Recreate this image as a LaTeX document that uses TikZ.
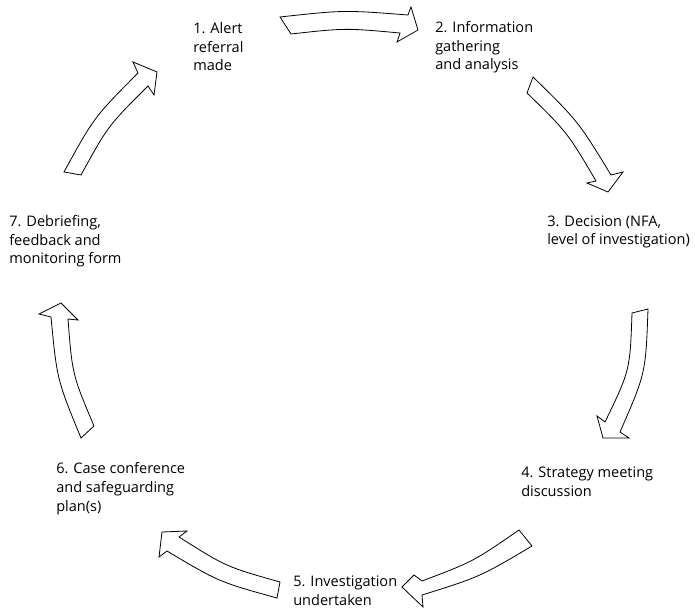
\documentclass[tikz,border=0pt]{standalone}
\usepackage{fontspec}
\setmainfont{Open Sans}
\tikzset{
  blockarrow/.style={draw=black, line width=0.6pt, fill=white, line join=miter},
  stage/.style={anchor=base west, align=left, inner sep=0pt,
    font=\fontsize{10.9pt}{13.9pt}\selectfont}
}
\begin{document}
\begin{tikzpicture}[x=0.75pt, y=-0.75pt]
\useasboundingbox[fill=white] (0,0) rectangle (695,609);

% labels (anchor = baseline of last line)
\node[stage] (s1) at (193,71) {1. Alert\\referral\\made};
\node[stage] (s2) at (435,70) {2. Information\\gathering\\and analysis};
\node[stage] (s3) at (547,245) {3. Decision (NFA,\\level of investigation)};
\node[stage] (s4) at (521,496) {4. Strategy meeting\\discussion};
\node[stage] (s5) at (293,605) {5. Investigation\\undertaken};
\node[stage] (s6) at (56,511) {6. Case conference\\and safeguarding\\plan(s)};
\node[stage] (s7) at (9,264) {7. Debriefing,\\feedback and\\monitoring form};

% arrow 1 -> 2
\draw[blockarrow] (280,17) .. controls (344,10) and (344,10) .. (408,15)
  -- (411,7) -- (418,30) -- (397,42) -- (400,33)
  .. controls (345,28) and (345,28) .. (291,34) -- cycle;
% arrow 2 -> 3
\draw[blockarrow] (533,77) .. controls (578,121) and (578,121) .. (611,175)
  -- (623,172) -- (608,192) -- (587,183) -- (596,181)
  .. controls (567.4,132.4) and (567.4,132.4) .. (527,93) -- cycle;
% arrow 3 -> 4
\draw[blockarrow] (648,309) .. controls (645.7,373.2) and (645.7,373.2) .. (620,432)
  -- (629,438) -- (603,438) -- (597,416) -- (605,422)
  .. controls (630,370.4) and (630,370.4) .. (632,313) -- cycle;
% arrow 4 -> 5
\draw[blockarrow] (519,530) .. controls (473.6,561.4) and (473.6,561.4) .. (422,581)
  -- (414,575) -- (402,587) -- (423,607) -- (422,595)
  .. controls (479.8,576.9) and (479.8,576.9) .. (532,546) -- cycle;
% arrow 5 -> 6
\draw[blockarrow] (280,582) .. controls (226.2,566.8) and (226.2,566.8) .. (179,537)
  -- (187,531) -- (162,532) -- (159,557) -- (167,551)
  .. controls (218.9,581.9) and (218.9,581.9) .. (277,598) -- cycle;
% arrow 6 -> 7
\draw[blockarrow] (81,438) .. controls (57,379.7) and (57,379.7) .. (51,317)
  -- (39,314) -- (61,303) -- (78,320) -- (68,319)
  .. controls (72.3,374.6) and (72.3,374.6) .. (94,426) -- cycle;
% arrow 7 -> 1
\draw[blockarrow] (64,172) .. controls (94,117.3) and (94,117.3) .. (138,73)
  -- (133,62) -- (157,72) -- (154,95) -- (148,86)
  .. controls (108.1,125.7) and (108.1,125.7) .. (81,175) -- cycle;
\end{tikzpicture}
\end{document}
